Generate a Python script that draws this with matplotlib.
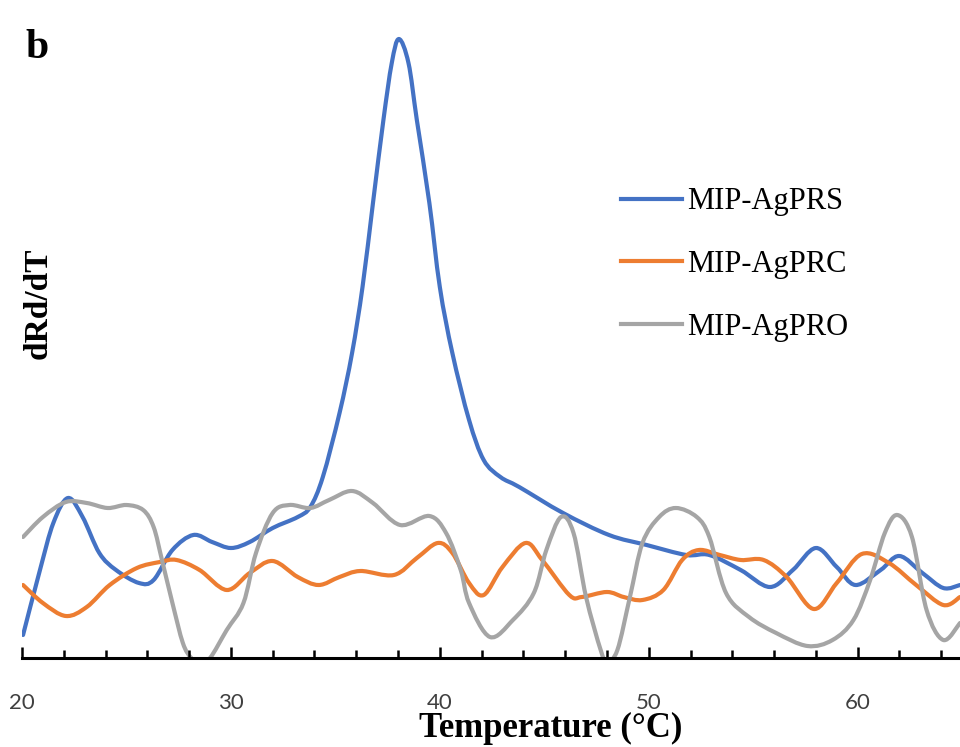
import numpy as np
import matplotlib.pyplot as plt
from matplotlib.path import Path
from matplotlib.patches import PathPatch
from matplotlib.lines import Line2D
from matplotlib.ticker import MultipleLocator

# (arbitrary dRd/dT units)
temp_prs = [20.05, 20.86, 21.5, 22.2, 22.9, 23.7, 24.5, 25.6, 26.3, 27.2, 28.2, 29.1, 30.0,
            30.9, 32.0, 33.2, 33.8, 34.4, 35.2, 35.8, 36.3, 36.8, 37.3, 37.7, 38.04,
            38.5, 38.9, 39.5, 40.0, 40.6, 41.4, 42.1, 42.9, 43.8, 45.9, 48.1, 49.9,
            51.8, 52.9, 54.4, 55.8, 56.9, 58.0, 59.0, 59.9, 61.1, 62.0, 63.1, 64.1, 64.9]
drdt_prs = [0.23, 0.88, 1.35, 1.60, 1.41, 1.05, 0.88, 0.75, 0.78, 1.08, 1.23, 1.16, 1.10,
            1.16, 1.30, 1.41, 1.51, 1.81, 2.45, 3.05, 3.71, 4.55, 5.38, 5.95, 6.19,
            5.95, 5.38, 4.55, 3.71, 3.05, 2.38, 1.98, 1.81, 1.71, 1.45, 1.23, 1.13,
            1.03, 1.03, 0.88, 0.71, 0.88, 1.10, 0.91, 0.73, 0.88, 1.02, 0.85, 0.70, 0.73]

temp_prc = [20.05, 21.0, 22.1, 23.1, 24.2, 25.5, 26.6, 27.4, 28.5, 29.8, 30.9, 32.0, 33.2,
            34.2, 35.2, 36.2, 37.8, 38.9, 39.9, 40.6, 41.4, 42.1, 43.0, 44.1, 44.9,
            46.2, 46.8, 48.0, 48.8, 49.7, 50.7, 51.6, 52.4, 53.4, 54.4, 55.5, 56.6,
            57.9, 59.0, 60.2, 61.5, 62.8, 64.1, 64.9]
drdt_prc = [0.73, 0.55, 0.42, 0.51, 0.73, 0.90, 0.96, 0.98, 0.88, 0.68, 0.85, 0.97, 0.81,
            0.73, 0.81, 0.87, 0.83, 1.00, 1.15, 1.05, 0.75, 0.63, 0.91, 1.15, 0.98,
            0.63, 0.61, 0.66, 0.61, 0.58, 0.68, 0.98, 1.08, 1.03, 0.98, 0.98, 0.81,
            0.49, 0.75, 1.04, 0.95, 0.73, 0.53, 0.61]

temp_pro = [20.05, 21.0, 22.1, 23.1, 24.1, 25.0, 25.8, 26.3, 26.7, 27.2, 27.7, 28.1, 28.5,
            29.0, 29.8, 30.6, 31.2, 32.0, 32.8, 33.8, 34.7, 35.8, 36.8, 38.1, 39.5,
            40.3, 41.0, 41.4, 42.4, 43.5, 44.5, 45.1, 45.8, 46.4, 47.0, 47.7, 48.0,
            48.5, 49.1, 49.7, 50.5, 51.3, 52.3, 52.9, 53.7, 54.8, 56.1, 57.6, 58.8,
            59.8, 60.6, 61.3, 61.9, 62.6, 63.3, 64.1, 64.9]
drdt_pro = [1.21, 1.41, 1.56, 1.55, 1.50, 1.53, 1.48, 1.31, 0.98, 0.55, 0.15, 0.0, -0.05,
            0.0, 0.28, 0.55, 1.05, 1.45, 1.53, 1.50, 1.58, 1.67, 1.55, 1.33, 1.42,
            1.25, 0.88, 0.55, 0.21, 0.38, 0.65, 1.08, 1.41, 1.25, 0.61, 0.08, -0.04,
            0.08, 0.61, 1.15, 1.41, 1.50, 1.41, 1.21, 0.65, 0.41, 0.25, 0.12, 0.18,
            0.38, 0.78, 1.25, 1.43, 1.21, 0.48, 0.18, 0.35]

labels = ["MIP-AgPRS", "MIP-AgPRC", "MIP-AgPRO"]
colors = ["#4472C4", "#ED7D31", "#A5A5A5"]

serif = "Liberation Serif"


def smooth_path(xs, ys):
    """Excel-style smoothed line: bezier segments through the data points."""
    p = np.column_stack([xs, ys]).astype(float)
    pts = np.vstack([p[0], p, p[-1]])
    verts = [p[0]]
    codes = [Path.MOVETO]
    for i in range(1, len(pts) - 2):
        p0, p1, p2, p3 = pts[i - 1], pts[i], pts[i + 1], pts[i + 2]
        verts += [p1 + (p2 - p0) / 6, p2 - (p3 - p1) / 6, p2]
        codes += [Path.CURVE4] * 3
    return Path(verts, codes)


fig = plt.figure(figsize=(9.6, 7.47), dpi=100)
ax = fig.add_axes([22 / 960, 89 / 747, 938 / 960, 638 / 747])

handles = []
for t, d, lab, c in zip([temp_prs, temp_prc, temp_pro],
                        [drdt_prs, drdt_prc, drdt_pro], labels, colors):
    ax.add_patch(PathPatch(smooth_path(t, d), fill=False, edgecolor=c, lw=3,
                           capstyle="round", joinstyle="round"))
    handles.append(Line2D([], [], color=c, lw=3, label=lab))

ax.set_xlim(20, 64.9)
ax.set_ylim(0, 6.38)

for s in ("top", "right", "left"):
    ax.spines[s].set_visible(False)
ax.spines["bottom"].set_linewidth(2.2)
ax.set_yticks([])

ax.xaxis.set_major_locator(MultipleLocator(10))
ax.xaxis.set_minor_locator(MultipleLocator(2))
ax.tick_params(axis="x", which="major", direction="in", length=8, width=1.8, pad=25,
               labelsize=16, labelcolor="#404040")
ax.tick_params(axis="x", which="minor", direction="in", length=6, width=1.8)
for lbl in ax.get_xticklabels():
    lbl.set_fontfamily("Lato")

ax.legend(handles=handles, loc="upper left", bbox_to_anchor=(606 / 960, 1 - 172 / 747),
          bbox_transform=fig.transFigure, frameon=False,
          prop={"family": serif, "size": 22}, handlelength=2.0,
          handletextpad=0.15, labelspacing=1.1, borderpad=0)

fig.text(551 / 960, 1 - 728 / 747, "Temperature (°C)", ha="center", va="center",
         fontsize=25, fontweight="bold", family=serif)
fig.text(38 / 960, 1 - 303 / 747, "dRd/dT", ha="center", va="center", rotation=90,
         fontsize=24, fontweight="bold", family=serif)
fig.text(25 / 960, 1 - 58 / 747, "b", ha="left", va="baseline",
         fontsize=30, fontweight="bold", family=serif)

fig.savefig("out.png", dpi=100)
